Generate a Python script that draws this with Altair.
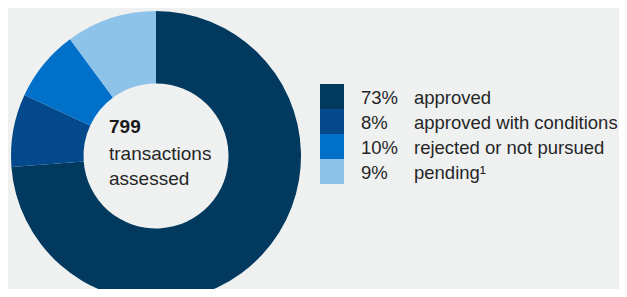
import altair as alt
import pandas as pd

categories = ["approved", "approved with conditions", "rejected or not pursued", "pending¹"]
pct_labels = ["73%", "8%", "10%", "9%"]
# slice sizes as drawn in the reference (share of the ring, %)
slice_values = [73.8, 8.1, 8.0, 10.1]
colors = ["#02395f", "#03498c", "#0070c9", "#8ec3e9"]
total = "799"
center_lines = ["transactions", "assessed"]

df = pd.DataFrame({
    "category": categories,
    "pct": pct_labels,
    "value": slice_values,
    "order": list(range(len(categories))),
})

color = alt.Color("category:N", scale=alt.Scale(domain=categories, range=colors), legend=None)
FONT = "Liberation Sans"
TXT = "#262626"

base = alt.Chart(df)

ring = base.mark_arc(stroke=None).encode(
    theta=alt.Theta("value:Q", stack=True),
    order=alt.Order("order:Q"),
    color=color,
    x=alt.value(148),
    y=alt.value(148),
    radius=alt.value(145),
    radius2=alt.value(72.5),
)

yscale = alt.Scale(range=[76, 176], paddingInner=0, paddingOuter=0)

swatch = base.mark_rect().encode(
    y=alt.Y("category:N", sort=categories, scale=yscale, axis=None),
    x=alt.value(312),
    x2=alt.value(336),
    color=color,
)

ytext = alt.Y("category:N", sort=categories, bandPosition=0.5, scale=yscale, axis=None)

pct_text = base.mark_text(align="left", baseline="middle", font=FONT, fontSize=18.5, color=TXT, dy=1).encode(
    y=ytext, x=alt.value(353), text="pct:N",
)

lab_text = base.mark_text(align="left", baseline="middle", font=FONT, fontSize=18.5, color=TXT, dy=1).encode(
    y=ytext, x=alt.value(406), text="category:N",
)

c1 = alt.Chart(pd.DataFrame({"t": [total]})).mark_text(
    align="left", baseline="alphabetic", font=FONT, fontSize=19, fontWeight="bold", color="#1a1a1a"
).encode(x=alt.value(101), y=alt.value(125), text="t:N")

c2 = alt.Chart(pd.DataFrame({"t": ["\n".join(center_lines)]})).mark_text(
    align="left", baseline="alphabetic", font=FONT, fontSize=19, color=TXT,
    lineBreak="\n", lineHeight=25,
).encode(x=alt.value(101), y=alt.value(152), text="t:N")

chart = alt.layer(ring, swatch, pct_text, lab_text, c1, c2).properties(
    width=611, height=281, padding=0, autosize="none", background="#eff1f1"
).configure_view(stroke=None)

chart.save("out.html", embed_options={"renderer": "svg", "actions": False})
